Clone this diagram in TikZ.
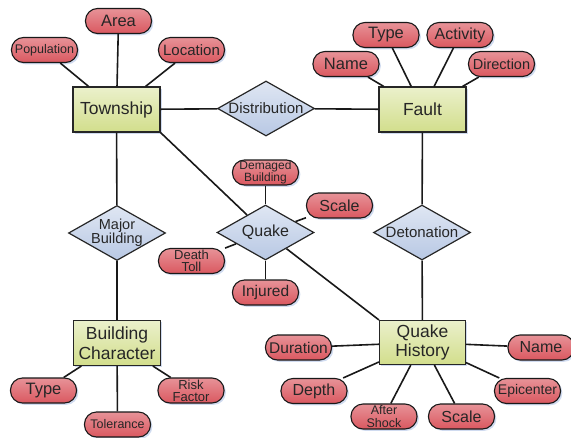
\documentclass[tikz,border=0pt]{standalone}
\usepackage{fontspec}
\setmainfont{Liberation Sans}
\usetikzlibrary{shapes.geometric,shadows}
\definecolor{entity}{RGB}{210,222,140}
\definecolor{attribute}{RGB}{218,88,96}
\definecolor{relation}{RGB}{184,200,228}
\definecolor{shade}{RGB}{196,210,236}

\begin{document}
\begin{tikzpicture}[x=10pt, y=-10pt,
  fsz/.style={font=\fontsize{#1}{#1}\selectfont},
  twoline/.style={font=\fontsize{#1}{12.2}\selectfont},
  softshadow/.style={drop shadow={shadow xshift=1.8pt, shadow yshift=-1.8pt, fill=shade, opacity=0.8}},
  entitybox/.style={draw=black!85, line width=1.1pt, top color=entity!45!white, bottom color=entity,
    minimum width=87pt, minimum height=45pt, inner sep=0pt, align=center, text=black!85,
    font=\fontsize{17.5}{19.5}\selectfont, softshadow},
  attr/.style={draw=black!90, line width=1.1pt, top color=attribute!65!white, bottom color=attribute,
    rounded corners=12pt, minimum width=66pt, minimum height=25pt, inner sep=0pt, align=center,
    text=black!85, font=\fontsize{15}{15}\selectfont, softshadow},
  rel/.style={diamond, draw=black!85, line width=1.2pt, top color=relation!45!white, bottom color=relation,
    minimum width=97pt, minimum height=55pt, aspect=1.75, inner sep=0pt, align=center,
    text=black!85, font=\fontsize{15}{15}\selectfont},
  link/.style={line width=1.6pt, black!90}]
\useasboundingbox (0,0) rectangle (57.1,43.7);

% エンティティ
\node[entitybox] (township) at (11.65,10.95) {Township};
\node[entitybox] (fault) at (42.25,10.95) {Fault};
\node[entitybox] (bchar) at (11.7,34.3) {Building\\Character};
\node[entitybox, minimum width=86pt, minimum height=44pt] (qhist) at (42.25,34.25) {Quake\\History};

% リレーション
\node[rel] (distribution) at (26.6,10.85) {Distribution};
\node[rel, inner sep=-2pt, font=\fontsize{14.5}{14}\selectfont] (majorbuilding) at (11.7,23.3) {Major\\Building};
\node[rel, fsz=16] (quake) at (26.55,23.25) {Quake};
\node[rel] (detonation) at (42.2,23.25) {Detonation};

% 属性: Township
\node[attr, fsz=16.5] (area) at (11.85,2.1) {Area};
\node[attr, fsz=12.5] (population) at (4.45,5.0) {Population};
\node[attr] (location) at (19.15,5.0) {Location};

% 属性: Fault
\node[attr, fsz=16.5] (ftype) at (38.6,3.5) {Type};
\node[attr, fsz=16] (activity) at (46.0,3.5) {Activity};
\node[attr, fsz=16.5] (fname) at (34.6,6.4) {Name};
\node[attr, fsz=14.5] (direction) at (50.15,6.4) {Direction};

% 属性: Quake
\node[attr, twoline=12] (damaged) at (26.55,17.25) {Demaged\\Building};
\node[attr, fsz=16] (qscale) at (33.95,20.55) {Scale};
\node[attr, twoline=13] (deathtoll) at (19.15,26.1) {Death\\Toll};
\node[attr, fsz=15.5] (injured) at (26.55,29.25) {Injured};

% 属性: Building Character
\node[attr, fsz=16.5] (btype) at (4.35,39.05) {Type};
\node[attr, fsz=12.5] (tolerance) at (11.75,42.45) {Tolerance};
\node[attr, twoline=13] (risk) at (19.1,39.05) {Risk\\Factor};

% 属性: Quake History
\node[attr, fsz=15.5] (duration) at (29.85,34.75) {Duration};
\node[attr, fsz=16] (hname) at (54.1,34.75) {Name};
\node[attr, fsz=16] (depth) at (31.4,39.1) {Depth};
\node[attr, twoline=12.5] (aftershock) at (38.4,41.65) {After\\Shock};
\node[attr, fsz=16] (hscale) at (46.15,41.65) {Scale};
\node[attr, fsz=14] (epicenter) at (52.75,39.1) {Epicenter};

% 関連線
\draw[link] (township) -- (distribution);
\draw[link] (distribution) -- (fault);
\draw[link] (township) -- (majorbuilding);
\draw[link] (majorbuilding) -- (bchar);
\draw[link] (township.south east) -- (quake);
\draw[link] (quake) -- (qhist.north west);
\draw[link] (fault) -- (detonation);
\draw[link] (detonation) -- (qhist);

% 属性線
\foreach \a in {area,population,location} \draw[link] (\a) -- (township);
\foreach \a in {ftype,activity,fname,direction} \draw[link] (\a) -- (fault);
\foreach \a in {damaged,qscale,deathtoll,injured} \draw[link] (\a) -- (quake);
\foreach \a in {btype,tolerance,risk} \draw[link] (\a) -- (bchar);
\foreach \a in {duration,hname,depth,aftershock,hscale,epicenter} \draw[link] (\a) -- (qhist);
\end{tikzpicture}
\end{document}
